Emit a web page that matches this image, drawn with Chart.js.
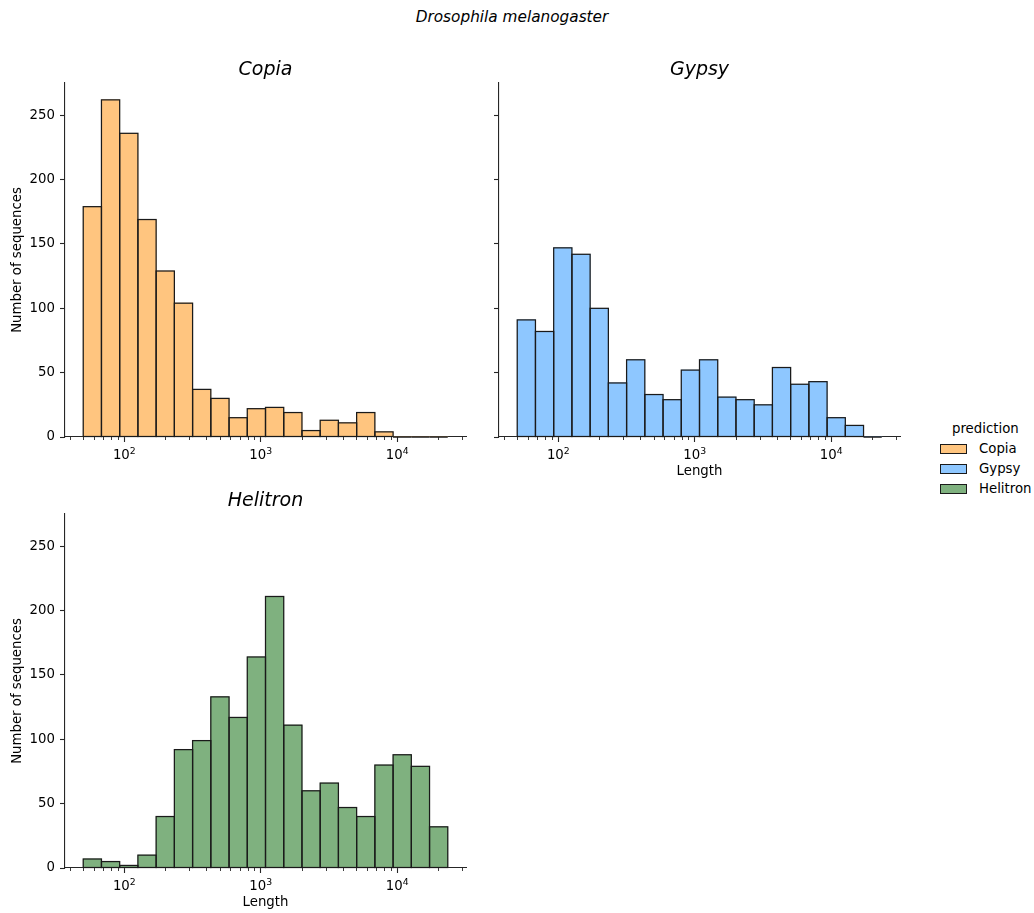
<!DOCTYPE html>
<html>
<head>
<meta charset="utf-8">
<script src="https://cdn.jsdelivr.net/npm/chart.js@4.4.1/dist/chart.umd.min.js"></script>
<style>
  html, body { margin: 0; padding: 0; background: #fff; }
  body { width: 1034px; height: 913px; overflow: hidden; position: relative; font-family: "DejaVu Sans", sans-serif; color: #000; }
  canvas { position: absolute; }
  #suptitle { position: absolute; left: 0; width: 1024px; top: 7px; line-height: 20px; text-align: center; font-style: italic; font-size: 15.3px; }
  .legend-title { position: absolute; font-size: 13.3px; line-height: 16px; }
  .legend-swatch { position: absolute; width: 25px; height: 8px; border: 1px solid #1a1a1a; }
  .legend-label { position: absolute; font-size: 13.3px; line-height: 16px; }
</style>
</head>
<body>
<div id="suptitle">Drosophila melanogaster</div>
<canvas id="copia" width="480" height="447" style="left:0px;top:40px"></canvas>
<canvas id="gypsy" width="480" height="447" style="left:434px;top:40px"></canvas>
<canvas id="helitron" width="480" height="442" style="left:0px;top:471px"></canvas>
<div id="legend"></div>
<script>
// Histogram bins: 20 equal-width bins in log10(length)
const binLow = 50;
const binHigh = 23500;
const binCount = 20;

// Counts per bin, one list per prediction class
const copiaCounts    = [179, 262, 236, 169, 129, 104, 37, 30, 15, 22, 23, 19, 5, 13, 11, 19, 4, 0, 0, 0];
const gypsyCounts    = [91, 82, 147, 142, 100, 42, 60, 33, 29, 52, 60, 31, 29, 25, 54, 41, 43, 15, 9, 0];
const helitronCounts = [7, 5, 2, 10, 40, 92, 99, 133, 117, 164, 211, 111, 60, 66, 47, 40, 80, 88, 79, 32];

const classNames  = ['Copia', 'Gypsy', 'Helitron'];
const classColors = ['#FFC57F', '#8EC7FF', '#7FB17F'];

// Axis ticks: decades on the log axis, drawn as 10 with a raised exponent
const xTickExponents = [2, 3, 4];
const xTickBase      = '10';
const yTickValues    = [0, 50, 100, 150, 200, 250];

const FONT = "'DejaVu Sans', sans-serif";
const AXIS_COLOR = '#262626';
const EDGE_COLOR = '#1a1a1a';
const TICK_SIZE = 13.3;
Chart.defaults.font.family = FONT;
Chart.defaults.color = '#000';

const logLo = Math.log10(binLow);
const logHi = Math.log10(binHigh);
const binW = (logHi - logLo) / binCount;
const binCenters = Array.from({ length: binCount }, (_, i) => logLo + (i + 0.5) * binW);
const xMin = logLo - binW;          // 5% margin on each side
const xMax = logHi + binW;
const yMax = Math.max(...copiaCounts, ...gypsyCounts, ...helitronCounts) * 1.05;

// minor log ticks (2..9 × 10^n) inside the visible range
const minorTicks = [];
for (let e = 1; e <= 4; e++) {
  for (let k = 2; k <= 9; k++) {
    const v = Math.log10(k * Math.pow(10, e));
    if (v >= xMin && v <= xMax) minorTicks.push(v);
  }
}

// Outline every bar with a centred stroke so neighbouring bars share one edge
const barOutline = {
  id: 'barOutline',
  afterDatasetsDraw(chart) {
    const ctx = chart.ctx;
    ctx.save();
    ctx.strokeStyle = EDGE_COLOR;
    ctx.lineWidth = 1.25;
    chart.getDatasetMeta(0).data.forEach(bar => {
      const p = bar.getProps(['x', 'y', 'base', 'width'], true);
      ctx.strokeRect(p.x - p.width / 2, p.y, p.width, p.base - p.y);
    });
    ctx.restore();
  }
};

// Minor tick marks plus "10^n" decade labels on the x axis
const logAxisDecor = {
  id: 'logAxisDecor',
  afterDraw(chart) {
    const s = chart.scales.x;
    const ctx = chart.ctx;
    ctx.save();
    ctx.strokeStyle = AXIS_COLOR;
    ctx.lineWidth = 0.9;
    minorTicks.forEach(v => {
      const px = Math.round(s.getPixelForValue(v)) + 0.5;
      ctx.beginPath();
      ctx.moveTo(px, s.top);
      ctx.lineTo(px, s.top + 3);
      ctx.stroke();
    });
    ctx.fillStyle = '#000';
    ctx.textBaseline = 'alphabetic';
    ctx.textAlign = 'left';
    const baseFont = TICK_SIZE + 'px ' + FONT;
    const expFont = (TICK_SIZE * 0.7).toFixed(2) + 'px ' + FONT;
    const baseline = s.top + 22;
    xTickExponents.forEach(e => {
      const px = s.getPixelForValue(e);
      ctx.font = baseFont;
      const wBase = ctx.measureText(xTickBase).width;
      ctx.font = expFont;
      const wExp = ctx.measureText(String(e)).width;
      const x0 = px - (wBase + wExp) / 2;
      ctx.font = baseFont;
      ctx.fillText(xTickBase, x0, baseline);
      ctx.font = expFont;
      ctx.fillText(String(e), x0 + wBase, baseline - 5.2);
    });
    ctx.restore();
  }
};

// Italic panel title centred over the plotting area
const panelTitle = {
  id: 'panelTitle',
  afterDraw(chart, args, opts) {
    const a = chart.chartArea;
    const ctx = chart.ctx;
    ctx.save();
    ctx.fillStyle = '#000';
    ctx.font = 'italic 19px ' + FONT;
    ctx.textAlign = 'center';
    ctx.textBaseline = 'alphabetic';
    ctx.fillText(opts.text, (a.left + a.right) / 2, a.top - 8);
    ctx.restore();
  }
};

function makePanel(id, title, counts, color, cfg) {
  return new Chart(document.getElementById(id), {
    type: 'bar',
    data: {
      datasets: [{
        label: title,
        data: binCenters.map((c, i) => ({ x: c, y: counts[i] })),
        backgroundColor: color,
        borderWidth: 0,
        barPercentage: 1,
        categoryPercentage: 1
      }]
    },
    options: {
      responsive: false,
      animation: false,
      devicePixelRatio: 1,
      layout: { padding: { left: 0, right: 14, top: 43, bottom: 0 } },
      plugins: {
        legend: { display: false },
        tooltip: { enabled: false },
        title: { display: false },
        panelTitle: { text: title }
      },
      scales: {
        x: {
          type: 'linear',
          min: xMin,
          max: xMax,
          offset: false,
          afterBuildTicks: s => { s.ticks = xTickExponents.map(v => ({ value: v })); },
          afterFit: s => { s.height = cfg.xHeight; },
          ticks: {
            autoSkip: false,
            maxRotation: 0,
            padding: 3.4,
            font: { family: FONT, size: TICK_SIZE },
            callback: () => ''
          },
          grid: { display: true, offset: false, drawOnChartArea: false, drawTicks: true, tickLength: 5, tickWidth: 1.1, tickColor: AXIS_COLOR },
          border: { display: true, color: AXIS_COLOR, width: 1.1 },
          title: {
            display: cfg.xTitle,
            text: 'Length',
            color: '#000',
            font: { family: FONT, size: TICK_SIZE },
            padding: { top: 0, bottom: cfg.xTitlePad }
          }
        },
        y: {
          min: 0,
          max: yMax,
          afterBuildTicks: s => { s.ticks = yTickValues.map(v => ({ value: v })); },
          afterFit: s => { s.width = 65; },
          ticks: {
            padding: 5,
            color: '#000',
            font: { family: FONT, size: TICK_SIZE },
            callback: v => cfg.yLabels ? String(v) : ''
          },
          grid: { display: true, drawOnChartArea: false, drawTicks: true, tickLength: 5, tickWidth: 1.1, tickColor: AXIS_COLOR },
          border: { display: true, color: AXIS_COLOR, width: 1.1 },
          title: {
            display: cfg.yLabels,
            text: 'Number of sequences',
            color: '#000',
            font: { family: FONT, size: TICK_SIZE },
            padding: { top: 10, bottom: 0 }
          }
        }
      }
    },
    plugins: [barOutline, logAxisDecor, panelTitle]
  });
}

makePanel('copia', 'Copia', copiaCounts, classColors[0], { xHeight: 50, xTitle: false, xTitlePad: 0, yLabels: true });
makePanel('gypsy', 'Gypsy', gypsyCounts, classColors[1], { xHeight: 50, xTitle: true, xTitlePad: 7, yLabels: false });
makePanel('helitron', 'Helitron', helitronCounts, classColors[2], { xHeight: 45, xTitle: true, xTitlePad: 2.5, yLabels: true });

// Legend for the prediction classes
const legend = document.getElementById('legend');
const lt = document.createElement('div');
lt.className = 'legend-title';
lt.textContent = 'prediction';
lt.style.left = '952px';
lt.style.top = '421px';
legend.appendChild(lt);
classNames.forEach((name, i) => {
  const cy = 449 + i * 20;
  const sw = document.createElement('div');
  sw.className = 'legend-swatch';
  sw.style.left = '940px';
  sw.style.top = (cy - 5) + 'px';
  sw.style.background = classColors[i];
  legend.appendChild(sw);
  const lb = document.createElement('div');
  lb.className = 'legend-label';
  lb.textContent = name;
  lb.style.left = '979px';
  lb.style.top = (cy - 8) + 'px';
  legend.appendChild(lb);
});
</script>
</body>
</html>
